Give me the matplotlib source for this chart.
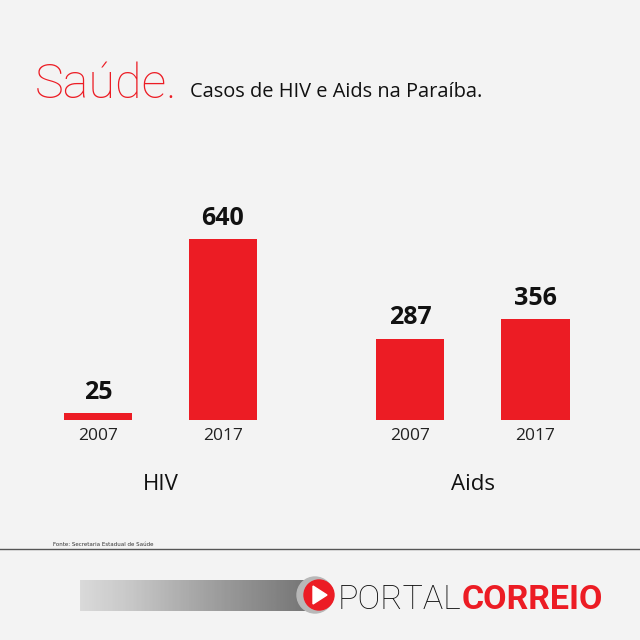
import numpy as np
import matplotlib
matplotlib.use('AGG')
import matplotlib.pyplot as plt
from matplotlib.patches import Circle, Polygon

# data
groups = ['HIV', 'Aids']
years = ['2007', '2017', '2007', '2017']
values = [25, 640, 287, 356]
positions = [0, 1, 2.5, 3.5]
group_centers = [0.5, 3.0]

RED = '#ec1c24'
BG = '#f3f3f3'

fig = plt.figure(figsize=(6.4, 6.4), dpi=100)
fig.patch.set_facecolor(BG)

# bar axes: baseline at y=420px, 0.283 px per unit
ax = fig.add_axes([0, 220 / 640, 1, 230 / 640])
ax.set_facecolor('none')
px = 1 / 125.0
ax.set_xlim(-98 * px, 542 * px)
ax.set_ylim(0, 230 / 0.283)
ax.axis('off')

bars = ax.bar(positions, values, width=68 * px, color=RED)
ax.bar_label(bars, labels=[str(v) for v in values], padding=6,
             fontsize=18, fontweight='bold', family='Open Sans', color='#111111')
for p, y in zip(positions, years):
    ax.annotate(y, (p, 0), xytext=(0, -6), textcoords='offset points',
                ha='center', va='top', fontsize=12.5, family='Open Sans',
                color='#222222')
for c, g in zip(group_centers, groups):
    ax.annotate(g, (c, 0), xytext=(0, -39), textcoords='offset points',
                ha='center', va='top', fontsize=16, family='Open Sans',
                color='#111111')

# title
fig.text(35 / 640, 1 - 98 / 640, 'Saúde.', fontsize=35, family='Roboto',
         fontweight='light', color=RED, va='baseline')
fig.text(190 / 640, 1 - 97 / 640, 'Casos de HIV e Aids na Paraíba.',
         fontsize=14.4, family='Open Sans', color='#111111', va='baseline')

# source + rule
fig.text(53 / 640, 1 - 546 / 640, 'Fonte: Secretaria Estadual de Saúde',
         fontsize=4, family='DejaVu Sans', color='#333333', va='baseline')
fig.add_artist(plt.Line2D([0, 1], [1 - 549 / 640] * 2, color='#555555', lw=1))

# logo
grad = np.linspace(0, 1, 256).reshape(1, -1)
gax = fig.add_axes([80 / 640, 1 - 611 / 640, 225 / 640, 31 / 640])
gax.imshow(grad, aspect='auto', cmap='Greys', vmin=-0.6, vmax=1.6, alpha=0.8)
gax.axis('off')
lax = fig.add_axes([0, 0, 1, 1])
lax.set_xlim(0, 640)
lax.set_ylim(640, 0)
lax.axis('off')
lax.add_patch(Circle((315, 595), 18, color='#b8b8b8'))
lax.add_patch(Circle((319, 595), 15, color=RED))
lax.add_patch(Polygon([[313, 586], [313, 604], [327, 595]], color='white'))
t1 = lax.text(338, 609, 'PORTAL', fontsize=24.5, family='Roboto', fontweight='light',
              color='#111111', va='baseline')
fig.canvas.draw()
bb = t1.get_window_extent()
x_end = bb.x1 * 640 / fig.bbox.width
lax.text(x_end, 609, 'CORREIO', fontsize=24.5, family='Roboto', fontweight='bold',
         color=RED, va='baseline')

fig.savefig('out.png', dpi=100, facecolor=BG)
